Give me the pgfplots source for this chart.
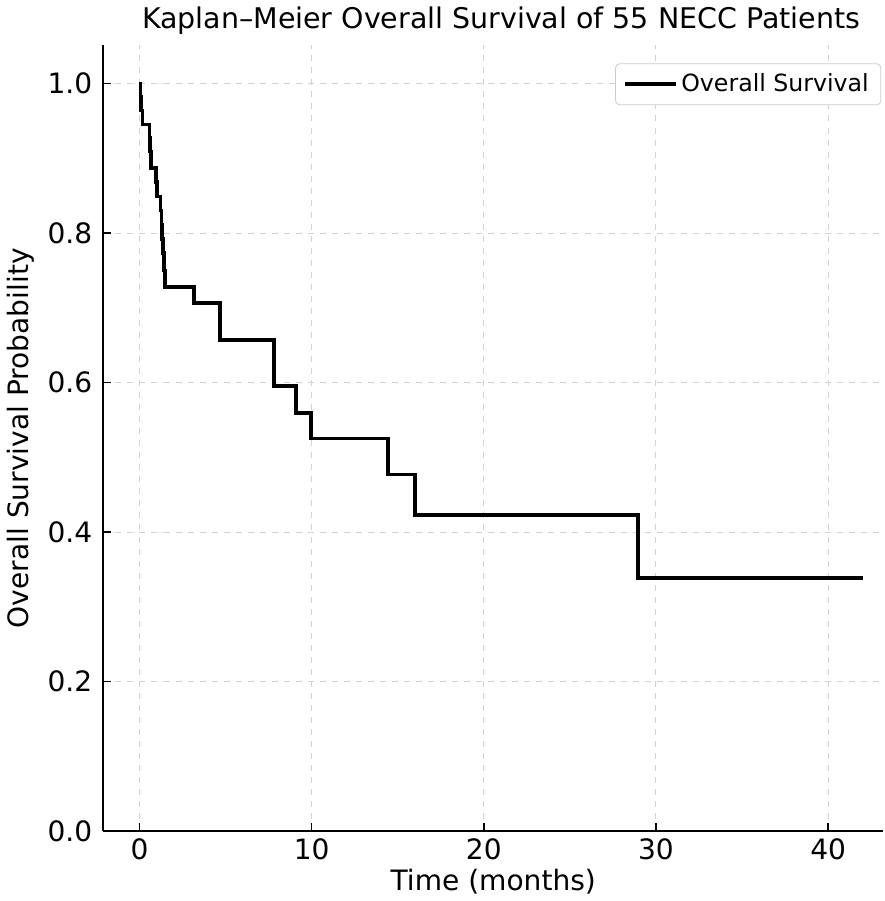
\documentclass[border=0pt]{standalone}
\usepackage{fontspec}
\setmainfont{DejaVu Sans}
\usepackage{pgfplots}
\pgfplotsset{compat=1.18}

\begin{document}
\begin{tikzpicture}
\begin{axis}[
    scale only axis,
    width=389pt, height=392pt,
    xmin=-2.1, xmax=43.2,
    ymin=0, ymax=1.051,
    axis x line*=bottom, axis y line*=left,
    axis line style={line width=1pt, -},
    xtick={0,10,20,30,40},
    ytick={0,0.2,0.4,0.6,0.8,1.0},
    yticklabel style={xshift=-2pt, /pgf/number format/.cd, fixed, fixed zerofill, precision=1},
    /pgf/number format/assume math mode=true,
    tick style={black, line width=0.8pt},
    major tick length=4pt,
    tick align=inside,
    ticklabel style={font=\fontsize{14}{16}\selectfont},
    grid=major,
    grid style={dashed, gray!35, line width=0.5pt},
    xlabel={Time (months)},
    ylabel={Overall Survival Probability},
    label style={font=\fontsize{14}{16}\selectfont},
    xlabel style={yshift=2pt},
    ylabel style={yshift=0pt},
    title={Kaplan–Meier Overall Survival of 55 NECC Patients},
    title style={font=\fontsize{14.2}{16}\selectfont, at={(rel axis cs:0.51,1)}, anchor=south, yshift=-4pt},
    legend style={at={(rel axis cs:1,1)}, anchor=north east, xshift=-1pt, yshift=-9pt,
        font=\fontsize{11.8}{14}\selectfont, draw=gray!40, rounded corners=2pt,
        inner xsep=4pt, inner ysep=3pt},
    legend cell align=left,
    legend image code/.code={\draw[#1, sharp corners] (0pt,0pt) -- (25pt,0pt);},
]
\addplot[const plot, black, line width=1.8pt] coordinates {
    (0,1.0) (0.05,0.982) (0.1,0.964) (0.17,0.945)
    (0.58,0.927) (0.62,0.909) (0.66,0.887)
    (0.97,0.868) (1.02,0.849)
    (1.22,0.830) (1.27,0.811) (1.32,0.792) (1.37,0.773) (1.42,0.750) (1.47,0.728)
    (3.16,0.706) (4.67,0.657) (7.82,0.595) (9.08,0.559) (9.95,0.525)
    (14.45,0.477) (16.0,0.423) (28.97,0.339) (42,0.339)
};
\addlegendentry{Overall Survival}
\end{axis}
\end{tikzpicture}
\end{document}
